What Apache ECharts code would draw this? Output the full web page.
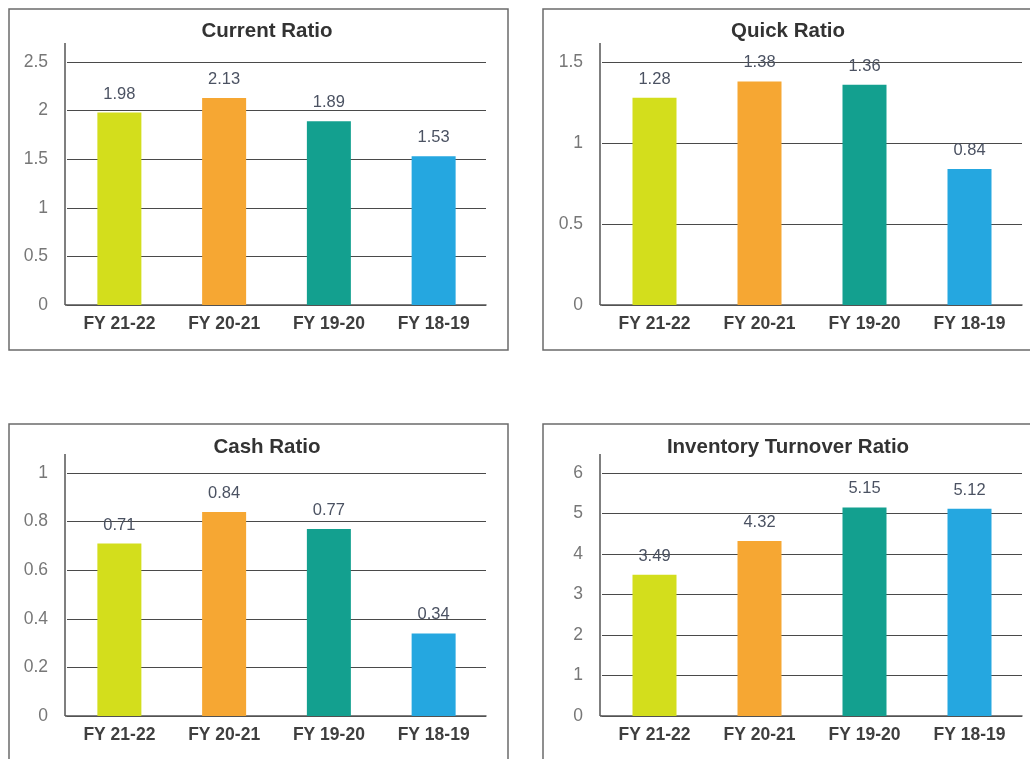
<!DOCTYPE html>
<html>
<head>
<meta charset="utf-8">
<title>Financial Ratios</title>
<script src="https://cdn.jsdelivr.net/npm/echarts@6/dist/echarts.min.js"></script>
<style>
  html, body { margin: 0; padding: 0; background: #ffffff; }
  #chart { width: 1030px; height: 759px; }
</style>
</head>
<body>
<div id="chart"></div>
<script>
// Fiscal years shown on each panel
const categories = ['FY 21-22', 'FY 20-21', 'FY 19-20', 'FY 18-19'];

// Ratio values per fiscal year
const currentRatio = [1.98, 2.13, 1.89, 1.53];
const quickRatio = [1.28, 1.38, 1.36, 0.84];
const cashRatio = [0.71, 0.84, 0.77, 0.34];
const inventoryTurnover = [3.49, 4.32, 5.15, 5.12];

// Panel titles
const titles = ['Current Ratio', 'Quick Ratio', 'Cash Ratio', 'Inventory Turnover Ratio'];

// Y axis ranges (max, step) per panel
const axisMax = [2.5, 1.5, 1, 6];
const axisStep = [0.5, 0.5, 0.2, 1];

// One colour per fiscal year
const barColors = ['#d3de1c', '#f6a733', '#13a08f', '#25a7e0'];

const FONT = '"Liberation Sans", Arial, Helvetica, sans-serif';
const seriesData = [currentRatio, quickRatio, cashRatio, inventoryTurnover];

// Panel placement: plot area and surrounding frame
const panels = [
  { left: 67,  top: 62,  width: 419, height: 243, titleX: 262, titleY: 16,  axisX: 65,  axisTop: 43,  frame: { x: 9,   y: 9,   w: 499, h: 341 } },
  { left: 602, top: 62,  width: 420, height: 243, titleX: 783, titleY: 16,  axisX: 600, axisTop: 43,  frame: { x: 543, y: 9,   w: 520, h: 341 } },
  { left: 67,  top: 473, width: 419, height: 243, titleX: 262, titleY: 432, axisX: 65,  axisTop: 454, frame: { x: 9,   y: 424, w: 499, h: 360 } },
  { left: 602, top: 473, width: 420, height: 243, titleX: 783, titleY: 432, axisX: 600, axisTop: 454, frame: { x: 543, y: 424, w: 520, h: 360 } }
];

const option = {
  backgroundColor: '#ffffff',
  animation: false,
  title: panels.map((p, i) => ({
    text: titles[i],
    left: p.titleX,
    top: p.titleY,
    textAlign: 'center',
    textStyle: { fontFamily: FONT, fontSize: 20.5, fontWeight: 'bold', color: '#333333' }
  })),
  grid: panels.map(p => ({ left: p.left, top: p.top, width: p.width, height: p.height, containLabel: false })),
  xAxis: panels.map((p, i) => ({
    type: 'category',
    gridIndex: i,
    data: categories,
    axisLine: { show: true, lineStyle: { color: '#555555', width: 1.5 } },
    axisTick: { show: false },
    axisLabel: { fontFamily: FONT, fontSize: 17.5, fontWeight: 'bold', color: '#3f3f3f', margin: 10 }
  })),
  yAxis: panels.map((p, i) => ({
    type: 'value',
    gridIndex: i,
    min: 0,
    max: axisMax[i],
    interval: axisStep[i],
    axisLine: { show: false },
    axisTick: { show: false },
    splitLine: { show: true, lineStyle: { color: '#4a4a4a', width: 1 } },
    axisLabel: { fontFamily: FONT, fontSize: 17.5, color: '#777777', margin: 19 }
  })),
  series: seriesData.map((vals, i) => ({
    type: 'bar',
    xAxisIndex: i,
    yAxisIndex: i,
    barWidth: 44,
    data: vals.map((v, j) => ({ value: v, itemStyle: { color: barColors[j] } })),
    label: {
      show: true,
      position: 'top',
      distance: 10,
      fontFamily: FONT,
      fontSize: 16.5,
      color: '#4b5262',
      formatter: d => d.value.toFixed(2)
    }
  })),
  graphic: panels.flatMap(p => [
    {
      type: 'rect',
      shape: { x: p.frame.x, y: p.frame.y, width: p.frame.w, height: p.frame.h },
      style: { fill: 'none', stroke: '#6b6b6b', lineWidth: 1.5 },
      z: -1
    },
    {
      // vertical axis rule, rising a little above the top gridline
      type: 'line',
      shape: { x1: p.axisX, y1: p.axisTop, x2: p.axisX, y2: p.top + p.height },
      style: { stroke: '#555555', lineWidth: 1.5 },
      z: 10
    },
    {
      // joins the vertical rule to the gridlines
      type: 'line',
      shape: { x1: p.axisX, y1: p.top + p.height, x2: p.left, y2: p.top + p.height },
      style: { stroke: '#555555', lineWidth: 1.5 },
      z: 10
    }
  ])
};

const chart = echarts.init(document.getElementById('chart'), null, { renderer: 'canvas' });
chart.setOption(option);
</script>
</body>
</html>
